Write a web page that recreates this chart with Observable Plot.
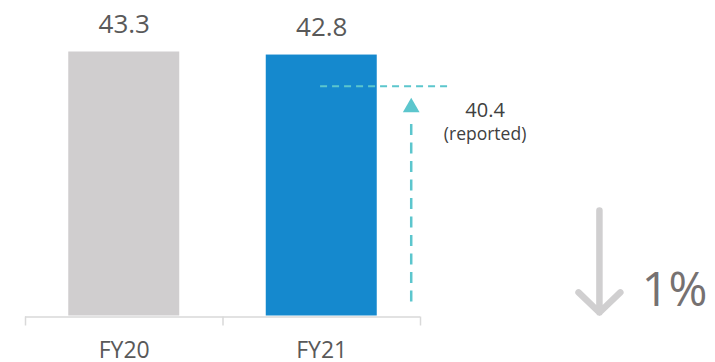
<!DOCTYPE html>
<html>
<head>
<meta charset="utf-8">
<script src="https://cdn.jsdelivr.net/npm/d3@7"></script>
<script src="https://cdn.jsdelivr.net/npm/@observablehq/plot@0.6"></script>
<style>
  html, body { margin: 0; padding: 0; background: #fff; }
  #chart svg { display: block; }
</style>
</head>
<body>
<div id="chart"></div>
<script>
// ---- data ----
const categories = ["FY20", "FY21"];
const values = [43.3, 42.8];
const reportedValues = [40.4];
const reportedLabels = ["(reported)"];
const changeLabels = ["1%"];

// ---- annotation geometry, in the chart's own data units ----
const reportedLevel = 37.7;          // dashed horizontal guide
const guideX = [0.994, 1.652];        // extent of the guide
const arrowX = 1.453;                 // dashed up-arrow column
const arrowY = [2.3, 31.5];           // dashed shaft extent
const arrowHeadY = 34.2;              // arrow head centre
const labelX = 1.827;
const downArrow = {x: 2.406, y1: 17.3, y2: 0.57};
const changePos = {x: 2.62, y: 1.72};

const bars = categories.map((c, i) => ({i, category: c, value: values[i]}));

const teal = "#5cc6cd";
const font = "'Open Sans', sans-serif";

const chart = Plot.plot({
  width: 715,
  height: 362,
  marginLeft: 25,
  marginRight: 295,
  marginTop: 10.65,
  marginBottom: 46.5,
  style: {fontFamily: font, background: "#fff"},
  x: {type: "linear", domain: [-0.5, 1.5], axis: null},
  y: {domain: [0, 50], axis: null},
  color: {domain: categories, range: ["#d0cecf", "#1589ce"]},
  marks: [
    Plot.rectY(bars, {x1: d => d.i - 0.281, x2: d => d.i + 0.281, y1: 0, y2: "value", fill: "category"}),
    // axis line & boundary ticks
    Plot.ruleY([0], {x1: -0.5, x2: 1.5, stroke: "#d9d9d9", strokeWidth: 1.5, dy: 1}),
    Plot.ruleX([-0.5, 0.5, 1.5], {y1: 0, y2: 0, insetBottom: -9, stroke: "#d9d9d9", strokeWidth: 1.5, dy: 1}),
    // value labels
    Plot.text(bars, {x: "i", y: "value", text: d => d.value.toFixed(1), dy: -19, lineAnchor: "bottom",
      fontSize: 26, fill: "#595959"}),
    // category labels
    Plot.text(bars, {x: "i", y: 0, text: "category", dy: 42, lineAnchor: "bottom",
      fontSize: 23, fill: "#595959"}),
    // reported guide
    Plot.ruleY([reportedLevel], {x1: guideX[0], x2: guideX[1], stroke: teal, strokeWidth: 2, strokeDasharray: "7,5"}),
    Plot.ruleX([arrowX], {y1: arrowY[0], y2: arrowY[1], stroke: teal, strokeWidth: 2.5, strokeDasharray: "11,7.5"}),
    Plot.dot([arrowX], {x: d => d, y: arrowHeadY, symbol: "triangle", r: 6.2, fill: teal, stroke: null}),
    Plot.text(reportedValues, {x: labelX, y: reportedLevel, text: d => d.toFixed(1), dy: 31, lineAnchor: "bottom",
      fontSize: 20, fill: "#404040"}),
    Plot.text(reportedLabels, {x: labelX, y: reportedLevel, text: d => d, dy: 54, lineAnchor: "bottom",
      fontSize: 17.5, fill: "#404040"}),
    // change indicator
    Plot.arrow([downArrow], {x1: "x", x2: "x", y1: "y1", y2: "y2", stroke: "#d0cfd0", strokeWidth: 6.5,
      headLength: 6.7, headAngle: 92, strokeLinecap: "round", strokeLinejoin: "round"}),
    Plot.text(changeLabels, {x: changePos.x, y: changePos.y, text: d => d, textAnchor: "start", lineAnchor: "bottom",
      fontSize: 47, fill: "#767171"})
  ]
});
document.getElementById("chart").appendChild(chart);
</script>
</body>
</html>
